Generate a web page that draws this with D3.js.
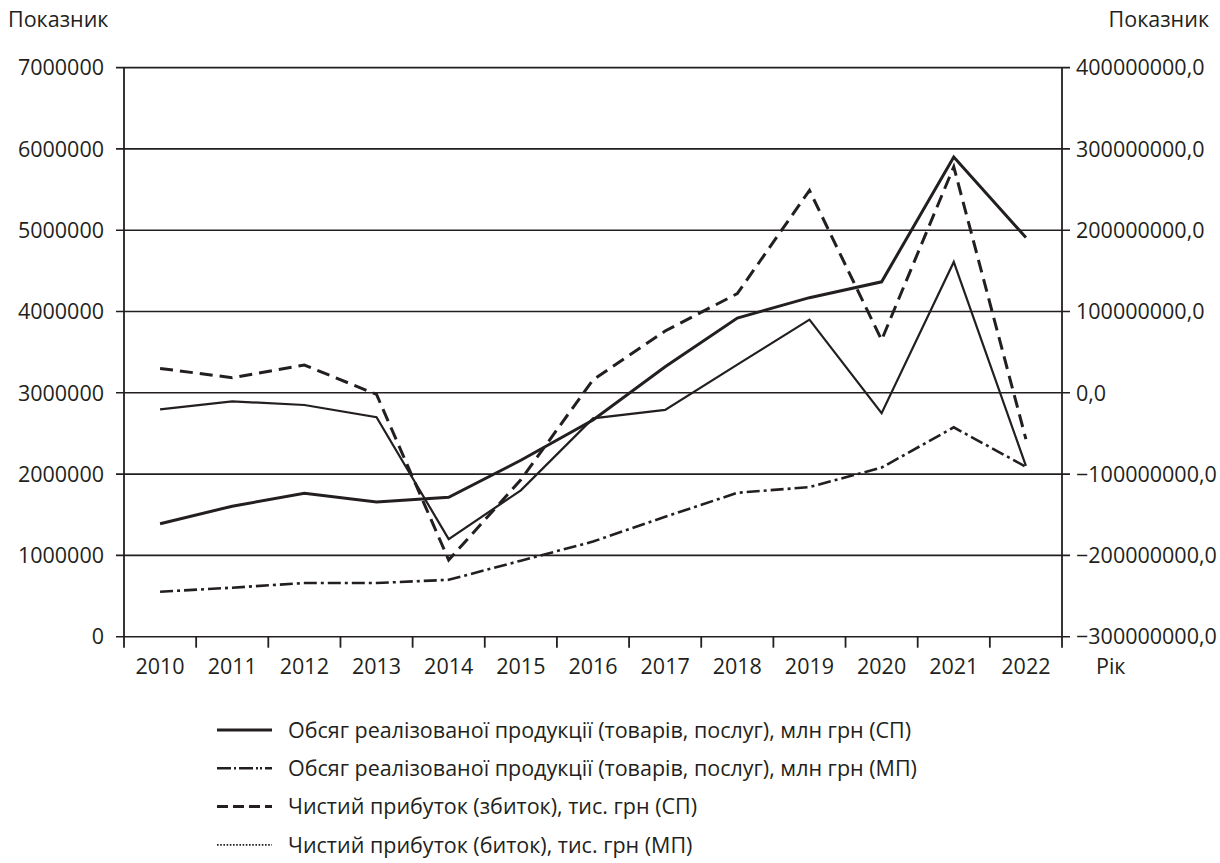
<!DOCTYPE html>
<html>
<head>
<meta charset="utf-8">
<script src="https://cdn.jsdelivr.net/npm/d3@7"></script>
<style>
  body { margin: 0; background: #fff; }
  svg text { font-family: "Open Sans", "Noto Sans", sans-serif; fill: #231f20; }
</style>
</head>
<body>
<svg id="chart" width="1220" height="863"></svg>
<script>
// years on the x axis
var years = ["2010", "2011", "2012", "2013", "2014", "2015", "2016", "2017", "2018", "2019", "2020", "2021", "2022"];

// left axis: volume of sold products, mln UAH
var volumeSP = [1390000, 1605000, 1765000, 1657000, 1714000, 2170000, 2665000, 3320000, 3920000, 4170000, 4365000, 5900000, 4910000];
var volumeMP = [553000, 603000, 660000, 660000, 700000, 935000, 1170000, 1475000, 1770000, 1840000, 2080000, 2575000, 2090000];

// right axis: net profit, thousand UAH
var profitSP = [30000000, 18600000, 34200000, -2000000, -205700000, -107000000, 16000000, 76000000, 122000000, 249000000, 65000000, 278000000, -57000000];
var profitMP = [-20300000, -10500000, -15000000, -30000000, -180000000, -120000000, -31500000, -21000000, 34600000, 90000000, -25000000, 161000000, -90000000];

var leftTicks = [0, 1000000, 2000000, 3000000, 4000000, 5000000, 6000000, 7000000];
var rightTicks = [-300000000, -200000000, -100000000, 0, 100000000, 200000000, 300000000, 400000000];

var legendLabels = [
  "Обсяг реалізованої продукції (товарів, послуг), млн грн (СП)",
  "Обсяг реалізованої продукції (товарів, послуг), млн грн (МП)",
  "Чистий прибуток (збиток), тис. грн (СП)",
  "Чистий прибуток (биток), тис. грн (МП)"
];

var INK = "#231f20";
var svg = d3.select("#chart");

var plotLeft = 124, plotRight = 1062, plotTop = 67.6, plotBottom = 636.7;

var x = d3.scaleBand().domain(years).range([plotLeft, plotRight]).padding(0);
var yL = d3.scaleLinear().domain([0, 7000000]).range([plotBottom, plotTop]);
var yR = d3.scaleLinear().domain([-300000000, 400000000]).range([plotBottom, plotTop]);
var cx = function(d) { return x(d) + x.bandwidth() / 2; };

// grid lines and outward ticks
svg.append("g").selectAll("line").data(leftTicks).enter()
  .append("line")
  .attr("x1", plotLeft - 8).attr("x2", plotRight + 8)
  .attr("y1", function(d) { return yL(d); })
  .attr("y2", function(d) { return yL(d); })
  .attr("stroke", INK).attr("stroke-width", 1.6);

// vertical axes
svg.append("line").attr("x1", plotLeft).attr("x2", plotLeft).attr("y1", plotTop).attr("y2", plotBottom + 11)
  .attr("stroke", INK).attr("stroke-width", 1.8);
svg.append("line").attr("x1", plotRight).attr("x2", plotRight).attr("y1", plotTop).attr("y2", plotBottom + 11)
  .attr("stroke", INK).attr("stroke-width", 1.8);

// x ticks at the band edges
svg.append("g").selectAll("line").data(years.slice(1)).enter()
  .append("line")
  .attr("x1", function(d) { return x(d); })
  .attr("x2", function(d) { return x(d); })
  .attr("y1", plotBottom).attr("y2", plotBottom + 11)
  .attr("stroke", INK).attr("stroke-width", 1.8);

// axis labels
svg.append("g").selectAll("text").data(leftTicks).enter()
  .append("text")
  .attr("x", 104).attr("y", function(d) { return yL(d); })
  .attr("dy", "0.36em").attr("text-anchor", "end")
  .style("font-size", "21.5px")
  .text(function(d) { return d; });

svg.append("g").selectAll("text").data(rightTicks).enter()
  .append("text")
  .attr("x", 1076).attr("y", function(d) { return yR(d); })
  .attr("dy", "0.36em")
  .style("font-size", "21.5px")
  .text(function(d) { return (d < 0 ? "\u2212" : "") + Math.abs(d) + ",0"; });

svg.append("g").selectAll("text").data(years).enter()
  .append("text")
  .attr("x", cx).attr("y", 674)
  .attr("text-anchor", "middle")
  .style("font-size", "21.5px")
  .text(function(d) { return d; });

svg.append("text").attr("x", 8).attr("y", 27).style("font-size", "21.5px").text("Показник");
svg.append("text").attr("x", 1209).attr("y", 27).attr("text-anchor", "end").style("font-size", "21.5px").text("Показник");
svg.append("text").attr("x", 1096).attr("y", 674).style("font-size", "21.5px").text("Рік");

// series
var series = [
  { values: volumeSP, y: yL, width: 3, dash: null },
  { values: volumeMP, y: yL, width: 2.6, dash: "13,4,3,4" },
  { values: profitSP, y: yR, width: 3, dash: "13,7" },
  { values: profitMP, y: yR, width: 2.2, dash: null }
];

series.forEach(function(s) {
  var line = d3.line()
    .x(function(d, i) { return cx(years[i]); })
    .y(function(d) { return s.y(d); });
  svg.append("path")
    .datum(s.values)
    .attr("d", line)
    .attr("fill", "none")
    .attr("stroke", INK)
    .attr("stroke-width", s.width)
    .attr("stroke-linejoin", "miter")
    .attr("stroke-dasharray", s.dash);
});

// legend
var legendStyles = [
  { width: 3, dash: null },
  { width: 2.6, dash: "14,3,2,3,14,3,2,2,2,3" },
  { width: 3, dash: "11,5" },
  { width: 1.6, dash: "1.6,1.6" }
];
var legend = svg.append("g");
legendLabels.forEach(function(label, i) {
  var ly = 730 + i * 38.3;
  legend.append("line")
    .attr("x1", 217).attr("x2", 272).attr("y1", ly).attr("y2", ly)
    .attr("stroke", INK)
    .attr("stroke-width", legendStyles[i].width)
    .attr("stroke-dasharray", legendStyles[i].dash);
  legend.append("text")
    .attr("x", 288).attr("y", ly).attr("dy", "0.36em")
    .style("font-size", "21.5px")
    .text(label);
});
</script>
</body>
</html>
